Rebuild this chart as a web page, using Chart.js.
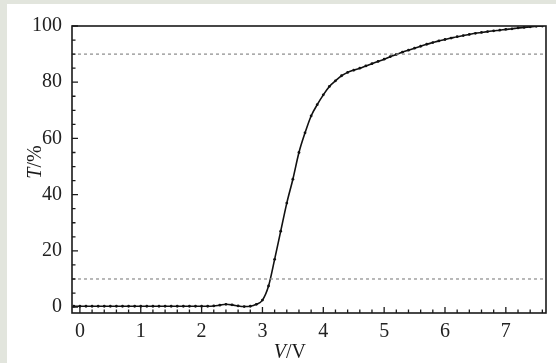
<!DOCTYPE html>
<html>
<head>
<meta charset="utf-8">
<script src="https://cdn.jsdelivr.net/npm/chart.js@4.4.1/dist/chart.umd.min.js"></script>
<style>
  html, body { margin: 0; padding: 0; background: #e2e5dd; }
  body { width: 556px; height: 363px; position: relative; overflow: hidden; }
  .panel { position: absolute; left: 7px; top: 4px; width: 549px; height: 359px; background: #ffffff; }
</style>
</head>
<body>
<div class="panel"><canvas id="curveChart"></canvas></div>
<script>
  // voltage (V) and transmittance (%)
  const voltage = [
    -0.1, 0.0, 0.1, 0.2, 0.3, 0.4, 0.5, 0.6, 0.7, 0.8, 0.9,
    1.0, 1.1, 1.2, 1.3, 1.4, 1.5, 1.6, 1.7, 1.8, 1.9,
    2.0, 2.1, 2.2, 2.3, 2.4, 2.5, 2.6, 2.7, 2.8, 2.9,
    3.0, 3.1, 3.2, 3.3, 3.4, 3.5, 3.6, 3.7, 3.8, 3.9,
    4.0, 4.1, 4.2, 4.3, 4.4, 4.5, 4.6, 4.7, 4.8, 4.9,
    5.0, 5.1, 5.2, 5.3, 5.4, 5.5, 5.6, 5.7, 5.8, 5.9,
    6.0, 6.1, 6.2, 6.3, 6.4, 6.5, 6.6, 6.7, 6.8, 6.9,
    7.0, 7.1, 7.2, 7.3, 7.4, 7.5, 7.6
  ];
  const transmittance = [
    0.3, 0.3, 0.3, 0.3, 0.3, 0.3, 0.3, 0.3, 0.3, 0.3, 0.3,
    0.3, 0.3, 0.3, 0.3, 0.3, 0.3, 0.3, 0.3, 0.3, 0.3,
    0.3, 0.3, 0.4, 0.7, 1.0, 0.8, 0.4, 0.2, 0.3, 1.0,
    2.5, 7.5, 17.0, 27.0, 37.0, 45.5, 55.0, 62.0, 68.0, 72.0,
    75.5, 78.5, 80.5, 82.3, 83.5, 84.3, 85.0, 85.8, 86.6, 87.4,
    88.2, 89.1, 89.9, 90.7, 91.4, 92.1, 92.8, 93.5, 94.1, 94.7,
    95.2, 95.7, 96.2, 96.6, 97.0, 97.4, 97.7, 98.0, 98.3, 98.5,
    98.8, 99.0, 99.3, 99.5, 99.7, 99.9, 100.0
  ];
  const refLevels = [10, 90];
  const xTicks = [0, 1, 2, 3, 4, 5, 6, 7];
  const yTicks = [0, 20, 40, 60, 80, 100];
  const xRange = [-0.13, 7.66];
  const yRange = [-2.1, 100];

  const SERIF = "'Liberation Serif', 'Times New Roman', serif";

  const curvePoints = voltage.map((v, i) => ({ x: v, y: transmittance[i] }));
  const refDatasets = refLevels.map(level => ({
    data: [{ x: xRange[0], y: level }, { x: xRange[1], y: level }],
    borderColor: '#8a8a8a',
    borderWidth: 1.2,
    borderDash: [3, 3],
    pointRadius: 0,
    fill: false
  }));

  // frame, inward ticks and axis titles
  const framePlugin = {
    id: 'frame',
    afterDatasetsDraw(chart) {
      const { ctx, chartArea: a, scales: { x, y } } = chart;
      ctx.save();
      ctx.strokeStyle = '#1a1a1a';
      ctx.lineWidth = 1.6;
      ctx.strokeRect(a.left, a.top, a.right - a.left, a.bottom - a.top);

      ctx.lineWidth = 1.3;
      ctx.beginPath();
      for (let k = 0; k <= 38; k++) {
        const v = k * 0.2;
        const px = x.getPixelForValue(v);
        const len = (k % 5 === 0) ? 6 : 3.5;
        ctx.moveTo(px, a.bottom);
        ctx.lineTo(px, a.bottom - len);
      }
      for (let k = 0; k <= 20; k++) {
        const v = k * 5;
        const py = y.getPixelForValue(v);
        const len = (k % 4 === 0) ? 6 : 3.5;
        ctx.moveTo(a.left, py);
        ctx.lineTo(a.left + len, py);
      }
      ctx.stroke();

      ctx.fillStyle = '#1a1a1a';
      ctx.textBaseline = 'alphabetic';
      // x title: V/V
      const tx = x.getPixelForValue(3.45);
      ctx.font = 'italic 20px ' + SERIF;
      const w1 = ctx.measureText('V').width;
      ctx.font = '20px ' + SERIF;
      const w2 = ctx.measureText('/V').width;
      let sx = tx - (w1 + w2) / 2;
      ctx.font = 'italic 20px ' + SERIF;
      ctx.fillText('V', sx, 354);
      ctx.font = '20px ' + SERIF;
      ctx.fillText('/V', sx + w1, 354);

      // y title: T/%
      ctx.translate(27, 158);
      ctx.rotate(-Math.PI / 2);
      ctx.font = 'italic 20px ' + SERIF;
      const h1 = ctx.measureText('T').width;
      ctx.font = '20px ' + SERIF;
      const h2 = ctx.measureText('/%').width;
      sx = -(h1 + h2) / 2;
      ctx.font = 'italic 20px ' + SERIF;
      ctx.fillText('T', sx, 7);
      ctx.font = '20px ' + SERIF;
      ctx.fillText('/%', sx + h1, 7);
      ctx.restore();
    }
  };

  new Chart(document.getElementById('curveChart'), {
    type: 'line',
    data: {
      datasets: [
        ...refDatasets,
        {
          data: curvePoints,
          borderColor: '#111111',
          borderWidth: 1.6,
          cubicInterpolationMode: 'monotone',
          pointRadius: 1.4,
          pointBackgroundColor: '#111111',
          pointBorderWidth: 0,
          fill: false
        }
      ]
    },
    options: {
      responsive: true,
      maintainAspectRatio: false,
      animation: false,
      layout: { padding: { left: 0, top: 21, right: 10, bottom: 0 } },
      plugins: { legend: { display: false }, tooltip: { enabled: false } },
      scales: {
        x: {
          type: 'linear',
          min: xRange[0],
          max: xRange[1],
          afterBuildTicks: s => { s.ticks = xTicks.map(v => ({ value: v })); },
          afterFit: s => { s.height = 50; },
          grid: { display: false, drawTicks: false },
          border: { display: false },
          ticks: { color: '#222', padding: 7, maxRotation: 0, font: { family: SERIF, size: 20 } }
        },
        y: {
          type: 'linear',
          min: yRange[0],
          max: yRange[1],
          afterBuildTicks: s => { s.ticks = yTicks.map(v => ({ value: v })); },
          afterFit: s => { s.width = 65; },
          grid: { display: false, drawTicks: false },
          border: { display: false },
          ticks: { color: '#222', padding: 10, font: { family: SERIF, size: 20 } }
        }
      }
    },
    plugins: [framePlugin]
  });
</script>
</body>
</html>
